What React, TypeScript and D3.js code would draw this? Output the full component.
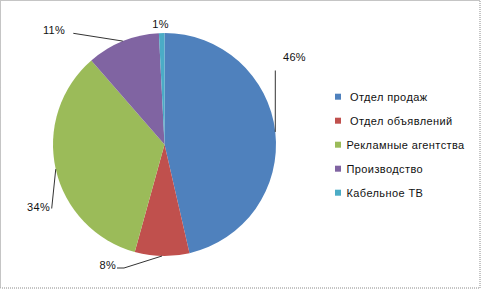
import React from "react";
import * as d3 from "d3";

const categories = [" Отдел продаж", " Отдел объявлений", "Рекламные агентства", "Производство", "Кабельное ТВ"];
const values = [46.4, 7.9, 34.3, 10.6, 0.8];
const labels = ["46%", "8%", "34%", "11%", "1%"];
const colors = ["#4F81BD", "#C0504D", "#9BBB59", "#8064A2", "#4BACC6"];

const W = 481, H = 289;
const cx = 164.5, cy = 144.5, R = 111.5;

// label layout: leader path points (after the edge point) and text anchor
const labelLayout = [
  { pts: [[275.3, 70.5]], tx: 283, ty: 61, anchor: "start" },
  { pts: [[124, 268], [117, 268]], tx: 116, ty: 269, anchor: "end" },
  { pts: [[51.7, 208.5]], tx: 50, ty: 211, anchor: "end" },
  { pts: [[73.3, 33.3]], tx: 65, ty: 33.5, anchor: "end" },
  { pts: null, tx: 160.5, ty: 27.5, anchor: "middle" },
];

export default function App() {
  const pie = d3.pie<number>().sort(null).value((d) => d);
  const arcs = pie(values);
  const arc = d3.arc<d3.PieArcDatum<number>>().innerRadius(0).outerRadius(R);
  const legendY = d3.scalePoint<number>().domain(d3.range(categories.length)).range([96.7, 192.7]);

  return (
    <svg width={W} height={H} style={{ position: "absolute", left: 0, top: 0, background: "#fff" }}
      fontFamily="'Liberation Sans', Arial, sans-serif" fontSize={11}>
      <rect x={0.5} y={0.5} width={479.5} height={287.5} fill="#fff" stroke="#8a8a8a" strokeDasharray="1,1" />
      <g transform={`translate(${cx},${cy})`}>
        {arcs.map((a, i) => (
          <path key={i} d={arc(a) || ""} fill={colors[i]} />
        ))}
      </g>
      {arcs.map((a, i) => {
        const mid = (a.startAngle + a.endAngle) / 2;
        const ex = cx + R * Math.sin(mid);
        const ey = cy - R * Math.cos(mid);
        const L = labelLayout[i];
        const line = L.pts ? d3.line()([[ex, ey], ...(L.pts as [number, number][])]) : null;
        return (
          <g key={i}>
            {line && <path d={line} fill="none" stroke="#333" strokeWidth={1} />}
            <text x={L.tx} y={L.ty} textAnchor={L.anchor as any} fill="#111" letterSpacing={0.3}>{labels[i]}</text>
          </g>
        );
      })}
      {categories.map((c, i) => (
        <g key={i}>
          <rect x={335} y={(legendY(i) as number) - 3} width={6} height={6} fill={colors[i]} />
          <text x={346.5} y={(legendY(i) as number) + 4} fill="#111" letterSpacing={0.4} style={{ whiteSpace: "pre" }}>{c}</text>
        </g>
      ))}
    </svg>
  );
}
